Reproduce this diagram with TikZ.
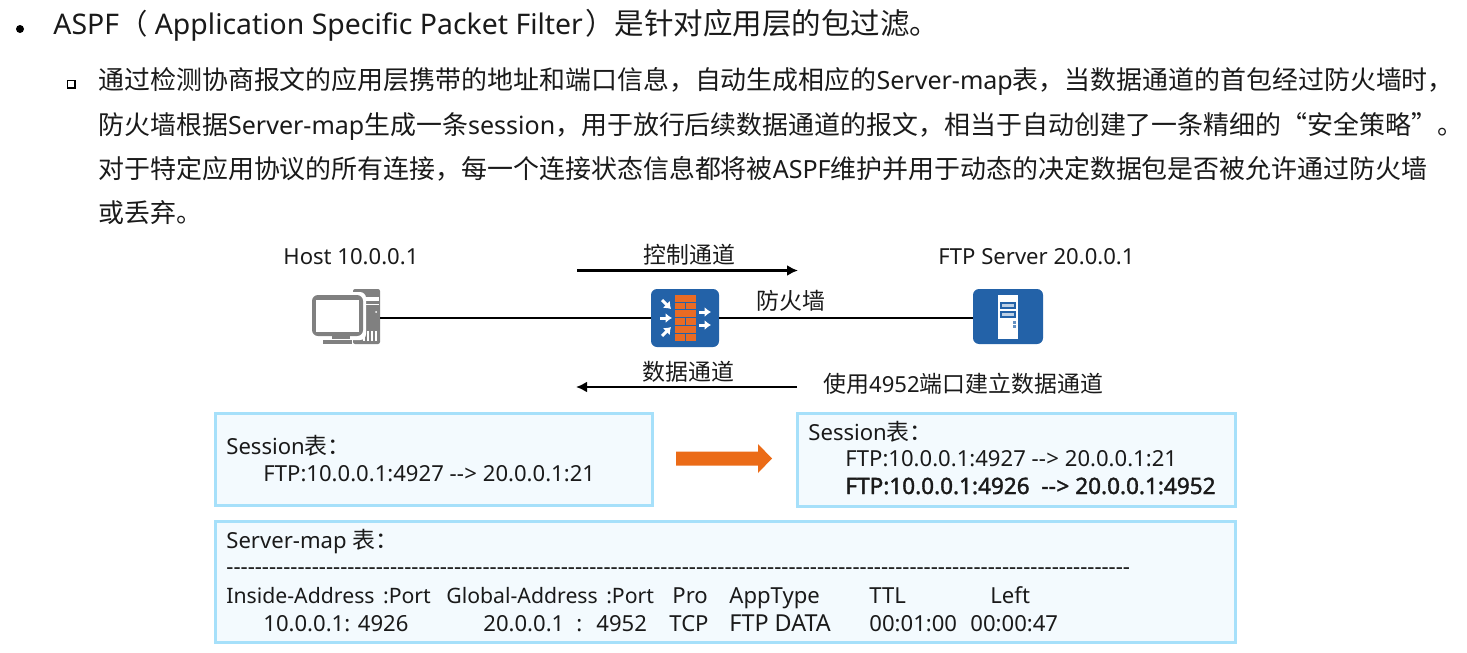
\documentclass[tikz,border=0pt]{standalone}
\usepackage{fontspec}
\usetikzlibrary{arrows.meta,shapes.arrows}
\setmainfont[Scale=0.965]{Noto Sans}
\newfontfamily\latfull{Noto Sans}
\newfontfamily\latbold[Scale=0.985,FakeBold=1.6]{Noto Sans}
\newfontfamily\cjk{Noto Sans CJK SC}
\newcommand{\Zh}[1]{{\cjk #1}}
\newcommand{\Hy}{{-}{-}\kern0.3pt>}
\newcommand{\SzA}{\fontsize{14.2}{17}\selectfont}
\newcommand{\SzAz}{\fontsize{14.75}{17}\selectfont}
\newcommand{\SzB}{\fontsize{12.97}{16}\selectfont}
\newcommand{\SzC}{\fontsize{11.45}{14}\selectfont}
\newcommand{\SzD}{\fontsize{11}{14}\selectfont}
\newcommand{\SzE}{\fontsize{12.1}{14}\selectfont}
\definecolor{txtc}{HTML}{1A1A1A}
\definecolor{boxline}{HTML}{A6E0FA}
\definecolor{boxfill}{HTML}{F3FAFE}
\definecolor{hw}{HTML}{2362A8}
\definecolor{brick}{HTML}{E96B24}
\definecolor{pc}{HTML}{808080}
\definecolor{orangearrow}{HTML}{EB6B17}
\tikzset{
  x=0.5pt,y=-0.5pt,
  txt/.style={anchor=base west,inner sep=0pt,text=txtc},
  lvla/.style={txt,font=\SzA},
  lvlb/.style={txt,font=\SzB},
  lbl/.style={txt,font=\SzC},
  tbox/.style={draw=boxline,fill=boxfill,line width=1.5pt,sharp corners},
  wire/.style={line width=1.4pt,black},
  flow/.style={line width=1.3pt,black,-{Latex[length=5.5pt,width=5.5pt]}},
  wt/.style={white,line width=1.5pt,-{Latex[length=3.2pt,width=5pt]}},
}
\begin{document}
\begin{tikzpicture}
\useasboundingbox (0,0) rectangle (1467,653);
% header text
\fill[black] (20,29) circle (4);
\draw[black,line width=0.9pt] (67.5,80.5) rectangle (75,88);
\node[lvla] (t1) at (53,34) {\latfull ASPF\Zh{（} Application Specific Packet Filter\kern-2.5pt\ {\SzAz\Zh{）是针对应用层的包过滤。}}};
\node[lvlb] (t2) at (98,89) {\Zh{通过检测协商报文的应用层携带的地址和端口信息，自动生成相应的}Server-map\Zh{表，当数据通道的首包经过防火墙时，}};
\node[lvlb] (t3) at (98,134) {\Zh{防火墙根据}Server-map\Zh{生成一条}session\Zh{，用于放行后续数据通道的报文，相当于自动创建了一条精细的“安全策略”。}};
\node[lvlb] (t4) at (98,178) {\Zh{对于特定应用协议的所有连接，每一个连接状态信息都将被}ASPF\Zh{维护并用于动态的决定数据包是否被允许通过防火墙}};
\node[lvlb] (t5) at (98,222) {\Zh{或丢弃。}};
% labels
\node[lbl] (hostl) at (283,264) {Host 10.0.0.1};
\node[lbl] (ftpl) at (938,264) {FTP Server\ 20.0.0.1};
\node[lbl] (ctl) at (643,263) {\Zh{控制通道}};
\node[lbl] (fwl) at (756,309) {\Zh{防火墙}};
\node[lbl] (datl) at (642,380) {\Zh{数据通道}};
\node[lbl] (usel) at (823,392) {\Zh{使用}4952\Zh{端口建立数据通道}};
% host icon
\coordinate (host) at (380,318);
\fill[pc,rounded corners=1pt] (353,289) rectangle (380,344);
\fill[white] (365,297) -- (379,297) -- (379,301) -- (365,301) -- cycle;
\fill[white] (365,304) rectangle (379,305);
\fill[white] (376,312) circle (1);
\foreach \xx in {363,367,371,375}{\fill[white] (\xx,331) rectangle ++(1.5,10);}
\fill[white,rounded corners=3pt] (309,292) rectangle (366,340);
\fill[pc,rounded corners=3pt] (312,295) rectangle (363,336);
\fill[white] (316,300) rectangle (359,332);
\fill[pc] (332,336) rectangle (350,339);
\fill[pc] (323,340) rectangle (352,344);
% firewall icon
\node[draw=none,fill=hw,rounded corners=3pt,minimum width=34pt,minimum height=29pt,inner sep=0pt] (fw) at (685,318) {};
\fill[brick] (675,295) rectangle (696,341);
\foreach \yy in {302,309,317,325,333}{\draw[hw,line width=0.5pt] (675,\yy) -- (696,\yy);}
\foreach \yy/\xx in {302/685,317/685,333/685}{\draw[hw,line width=0.5pt] (\xx,\yy) -- (\xx,\yy+7.5);}
\draw[wt] (662,300) -- (671,309);
\draw[wt] (660,318) -- (672,318);
\draw[wt] (662,336) -- (671,327);
\draw[wt] (699,312) -- (711,312);
\draw[wt] (699,325) -- (711,325);
% server icon
\node[draw=none,fill=hw,rounded corners=3pt,minimum width=35pt,minimum height=27.5pt,inner sep=0pt] (srv) at (1008,316.5) {};
\fill[white] (998,295) rectangle (1018,339);
\fill[hw] (1000,302) rectangle (1016,309);
\fill[hw] (1000,311) rectangle (1016,318);
\fill[white!70!hw] (1002,304) rectangle (1014,307);
\fill[white!70!hw] (1002,313) rectangle (1014,316);
\fill[hw!70!white] (1013,321) rectangle (1016,324);
\fill[hw!70!white] (1013,325) rectangle (1016,328);
% connectors
\draw[wire] (host) -- (host -| fw.west);
\draw[wire] (fw.east |- host) -- (srv.west |- host);
\coordinate (c1) at (577,270.5);
\coordinate (c2) at (798,270.5);
\coordinate (d1) at (797,387);
\coordinate (d2) at (576,387);
\draw[flow] (c1) -- (c2);
\draw[flow] (d1) -- (d2);
% tables
\node[tbox,anchor=north west,minimum width=218.5pt,minimum height=46pt,inner sep=0pt] (b1) at (214,411.5) {};
\node[tbox,anchor=north west,minimum width=219pt,minimum height=46.5pt,inner sep=0pt] (b2) at (796,411.5) {};
\node[tbox,anchor=north west,minimum width=510pt,minimum height=60.5pt,inner sep=0pt] (b3) at (214,520) {};
\node[lbl] (s1) at (226,454) {Session\Zh{表：}};
\node[lbl] (s2) at (263,481) {FTP:10.0.0.1:4927 \Hy{} 20.0.0.1:21};
\node[lbl] (s3) at (808,440) {Session\Zh{表：}};
\node[lbl] (s4) at (845,466) {FTP:10.0.0.1:4927 \Hy{} 20.0.0.1:21};
\node[lbl] (s5) at (845,494) {\latbold FTP:10.0.0.1:4926\ \ \Hy{} 20.0.0.1:4952};
\node[lbl] (m1) at (226,548) {Server-map \Zh{表：}};
\node[lbl] (dash) at (226,574) {\foreach \k in {1,...,127}{-}};
\node[lbl,font=\SzD] (h1) at (226,603) {Inside-Address\ \kern1.5pt:Port};
\node[lbl,font=\SzD] (h2) at (446,603) {Global-Address\ \kern1.5pt:Port};
\node[lbl] (h3) at (672,603) {Pro};
\node[lbl] (h4) at (729,603) {AppType};
\node[lbl] (h5) at (869,603) {TTL};
\node[lbl] (h6) at (990,603) {Left};
\node[lbl] (v1) at (263,631) {10.0.0.1: 4926};
\node[lbl] (v2) at (483,631) {20.0.0.1};
\node[lbl] (v2b) at (576,631) {:};
\node[lbl] (v2c) at (596,631) {4952};
\node[lbl] (v3) at (669,631) {TCP};
\node[lbl,font=\SzE] (v4) at (729,631) {FTP DATA};
\node[lbl] (v5) at (869,631) {00:01:00};
\node[lbl] (v6) at (970,631) {00:00:47};
% orange arrow
\fill[orangearrow] (676,451.5) -- (758,451.5) -- (758,444) -- (772,458.5) -- (758,473) -- (758,465.5) -- (676,465.5) -- cycle;
\end{tikzpicture}
\end{document}
